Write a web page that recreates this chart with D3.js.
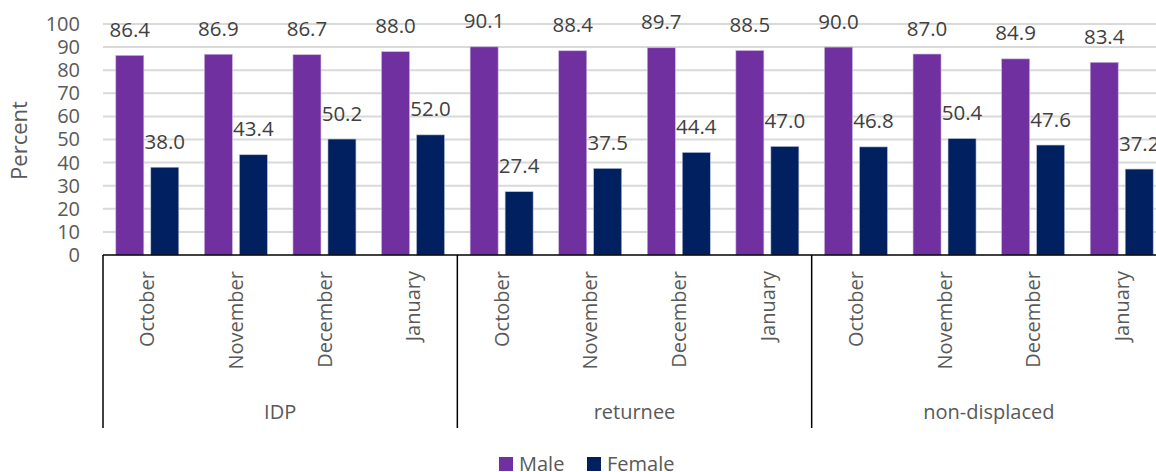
<!DOCTYPE html>
<html>
<head>
<meta charset="utf-8">
<script src="https://cdn.jsdelivr.net/npm/d3@7"></script>
<style>
  html, body { margin: 0; padding: 0; background: #fff; }
  svg { display: block; font-family: "Open Sans", "Noto Sans", sans-serif; }
</style>
</head>
<body>
<svg id="chart" width="1156" height="472"></svg>
<script>
// ---- data ----
const groups = ["IDP", "returnee", "non-displaced"];
const months = ["October", "November", "December", "January"];
const seriesNames = ["Male", "Female"];
const maleValues = [86.4, 86.9, 86.7, 88.0, 90.1, 88.4, 89.7, 88.5, 90.0, 87.0, 84.9, 83.4];
const femaleValues = [38.0, 43.4, 50.2, 52.0, 27.4, 37.5, 44.4, 47.0, 46.8, 50.4, 47.6, 37.2];
const yTicks = [0, 10, 20, 30, 40, 50, 60, 70, 80, 90, 100];
const colors = { Male: "#7030A0", Female: "#002060" };

(function () {
// build category rows
const rows = [];
groups.forEach((g, gi) => months.forEach((m, mi) => {
  const i = gi * months.length + mi;
  rows.push({ key: i, group: g, month: m, Male: maleValues[i], Female: femaleValues[i] });
}));

const svg = d3.select("#chart");
const pLeft = 103, pRight = 1166, pTop = 24, pBottom = 255;

const x0 = d3.scaleBand().domain(rows.map(d => d.key)).range([pLeft, pRight]).padding(0);
const step = x0.step();
const x1 = d3.scaleBand().domain(seriesNames)
  .range([step * 0.1445, step * 0.8555]).paddingInner(0.2).paddingOuter(0);
const y = d3.scaleLinear().domain([0, 100]).range([pBottom, pTop]);

// gridlines
svg.append("g").selectAll("line").data(yTicks.filter(t => t > 0)).join("line")
  .attr("x1", pLeft).attr("x2", pRight)
  .attr("y1", d => y(d)).attr("y2", d => y(d))
  .attr("stroke", "#D9D9D9").attr("stroke-width", 2);

// y axis labels
const yAxis = d3.axisLeft(y).tickValues(yTicks).tickSize(0).tickPadding(23);
const gy = svg.append("g").attr("transform", `translate(${pLeft},0)`).call(yAxis);
gy.select(".domain").remove();
gy.selectAll("text").attr("font-size", 20).attr("fill", "#595959")
  .attr("font-family", "Open Sans, sans-serif");

// y title
svg.append("text")
  .attr("transform", `translate(19,${(pTop + pBottom) / 2 + 1}) rotate(-90)`)
  .attr("text-anchor", "middle").attr("dy", "0.36em")
  .attr("font-size", 22).attr("fill", "#595959").text("Percent");

// bars
const cat = svg.append("g").selectAll("g").data(rows).join("g")
  .attr("transform", d => `translate(${x0(d.key)},0)`);

cat.selectAll("rect").data(d => seriesNames.map(s => ({ s, v: d[s] }))).join("rect")
  .attr("x", d => x1(d.s)).attr("width", x1.bandwidth())
  .attr("y", d => y(d.v)).attr("height", d => y(0) - y(d.v))
  .attr("fill", d => colors[d.s])
  .attr("stroke", d => d.s === "Male" ? "#C9B5DC" : "#B7C0D6").attr("stroke-width", 0.6);

// data labels
cat.selectAll("text").data(d => seriesNames.map(s => ({ s, v: d[s] }))).join("text")
  .attr("x", d => x1(d.s) + x1.bandwidth() / 2)
  .attr("y", d => y(d.v) - 18.5)
  .attr("text-anchor", "middle")
  .attr("font-size", 20.5).attr("fill", "#404040")
  .text(d => d3.format(".1f")(d.v));

// x axis line
svg.append("line").attr("x1", pLeft).attr("x2", pRight)
  .attr("y1", pBottom).attr("y2", pBottom)
  .attr("stroke", "#000").attr("stroke-width", 1.5);

// group separators
const sepIdx = [0, 4, 8, 12];
svg.append("g").selectAll("line").data(sepIdx).join("line")
  .attr("x1", d => pLeft + d * step).attr("x2", d => pLeft + d * step)
  .attr("y1", pBottom).attr("y2", 428)
  .attr("stroke", "#000").attr("stroke-width", 1.5);

// month labels
svg.append("g").selectAll("text").data(rows).join("text")
  .attr("transform", d => `translate(${x0(d.key) + step / 2},271) rotate(-90)`)
  .attr("text-anchor", "end").attr("dy", "0.36em")
  .attr("font-size", 20).attr("fill", "#595959")
  .text(d => d.month);

// group labels
svg.append("g").selectAll("text").data(groups).join("text")
  .attr("x", (d, i) => pLeft + (i * 4 + 2) * step)
  .attr("y", 419)
  .attr("text-anchor", "middle")
  .attr("font-size", 20).attr("fill", "#595959")
  .text(d => d);

// legend
const legendItems = [{ s: "Male", x: 499 }, { s: "Female", x: 587 }];
const li = svg.append("g").selectAll("g").data(legendItems).join("g")
  .attr("transform", d => `translate(${d.x},457)`);
li.append("rect").attr("width", 14).attr("height", 14).attr("fill", d => colors[d.s]);
li.append("text").attr("x", 20).attr("y", 14)
  .attr("font-size", 20).attr("fill", "#595959").text(d => d.s);
})();
</script>
</body>
</html>
